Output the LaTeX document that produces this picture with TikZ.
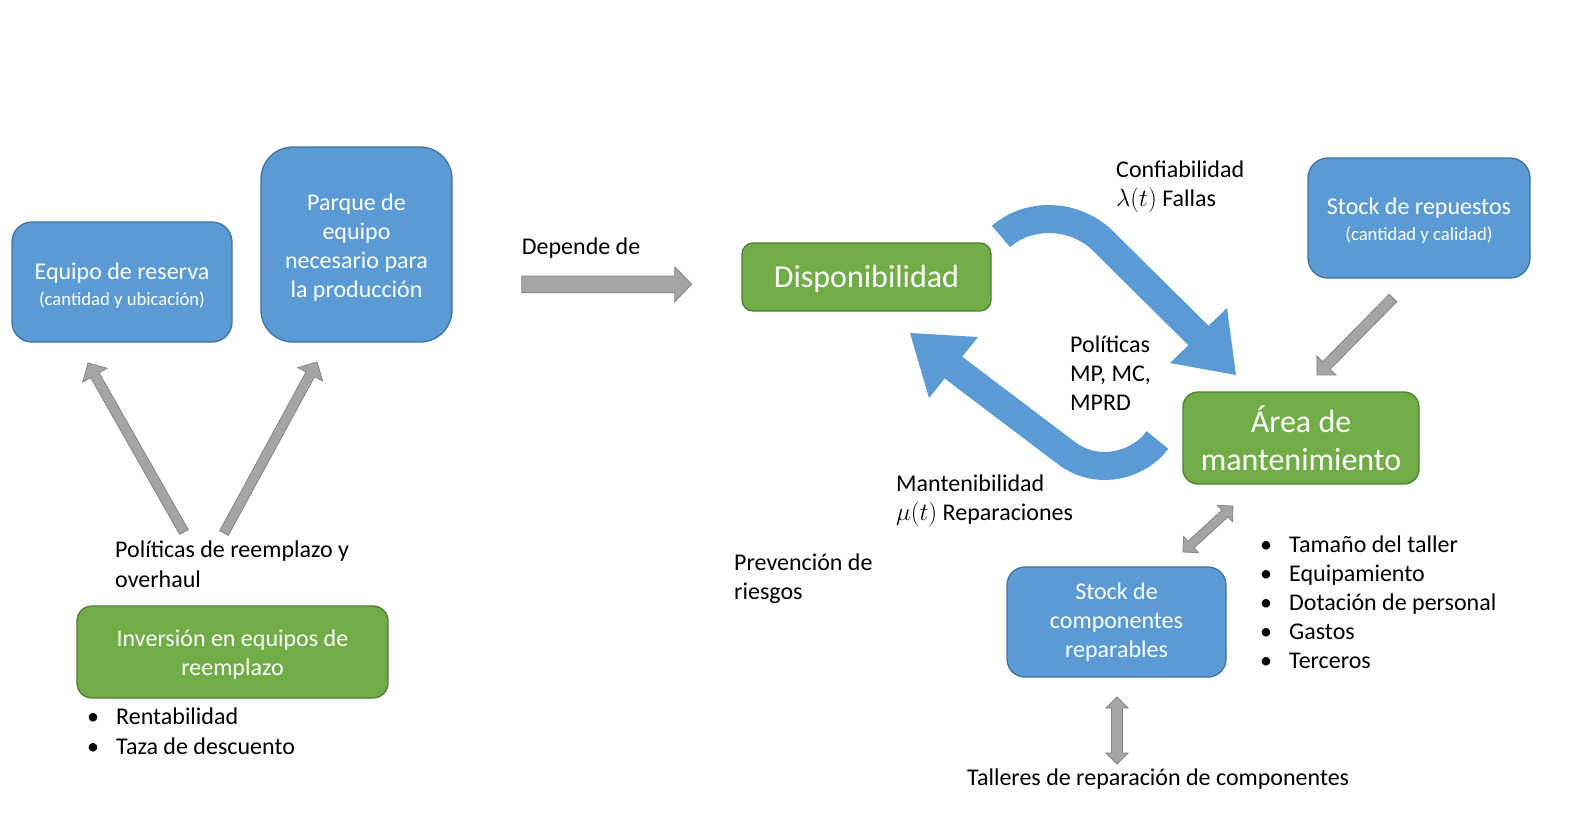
\documentclass[tikz,border=0pt]{standalone}
\usepackage{fontspec}
\setmainfont{Carlito}
\usetikzlibrary{calc}
\definecolor{bfill}{HTML}{5B9BD5}
\definecolor{bline}{HTML}{41719C}
\definecolor{gfill}{HTML}{70AD47}
\definecolor{gline}{HTML}{507E32}
\definecolor{afill}{HTML}{A5A5A5}
\definecolor{aline}{HTML}{848484}
\newcommand\fs[2]{\fontsize{#1}{#2}\selectfont}
\newcommand\tstrut[1]{\rule{0pt}{#1}}
\newcommand\singlearrow[5]{%
  \coordinate (tmpH) at ($(#2)!#5!(#1)$);
  \draw[garrow] ($(#1)!#3!90:(#2)$) -- ($(tmpH)!#3!90:(#2)$) -- ($(tmpH)!#4!90:(#2)$) -- (#2)
     -- ($(tmpH)!#4!-90:(#2)$) -- ($(tmpH)!#3!-90:(#2)$) -- ($(#1)!#3!-90:(#2)$) -- cycle;}
\newcommand\doublearrow[5]{%
  \coordinate (tmpA) at ($(#1)!#5!(#2)$);
  \coordinate (tmpB) at ($(#2)!#5!(#1)$);
  \draw[garrow] ($(tmpA)!#3!90:(#2)$) -- ($(tmpB)!#3!90:(#2)$) -- ($(tmpB)!#4!90:(#2)$) -- (#2)
     -- ($(tmpB)!#4!-90:(#2)$) -- ($(tmpB)!#3!-90:(#2)$) -- ($(tmpA)!#3!-90:(#2)$)
     -- ($(tmpA)!#4!-90:(#2)$) -- (#1) -- ($(tmpA)!#4!90:(#2)$) -- cycle;}
\tikzset{
  box/.style={draw=bline, fill=bfill, line width=1.3pt, text=white, align=center, inner sep=0pt, font=\fs{24}{29}},
  gbox/.style={box, draw=gline, fill=gfill},
  lbl/.style={anchor=base west, inner sep=0pt, align=left, font=\fs{24}{29}},
  garrow/.style={fill=afill, draw=aline, line width=0.8pt, line join=miter},
  barrow/.style={draw=bfill, line width=28pt},
  bhead/.style={fill=bfill},
}
\begin{document}
\begin{tikzpicture}[x=1pt,y=-1pt]
\fill[white] (0,0) rectangle (1580,820);
\useasboundingbox (0,0) rectangle (1580,820);

% boxes
\node[box, minimum width=220pt, minimum height=120pt, rounded corners=20pt] (reserva) at (122,282)
  {\tstrut{23pt}Equipo de reserva\\[-3pt]{\fs{18.67}{22}(cantidad y ubicación)}};
\node[box, minimum width=191pt, minimum height=195pt, rounded corners=32pt] (parque) at (356.5,244.5)
  {\tstrut{23pt}Parque de\\equipo\\necesario para\\la producción};
\node[gbox, minimum width=249pt, minimum height=68pt, rounded corners=11pt, font=\fs{32}{39}] (dispo) at (866.5,277)
  {\tstrut{27pt}Disponibilidad};
\node[box, minimum width=222pt, minimum height=120pt, rounded corners=20pt] (repuestos) at (1419,218)
  {\tstrut{21pt}Stock de repuestos\\[-3pt]{\fs{18.67}{22}(cantidad y calidad)}};
\node[gbox, minimum width=236pt, minimum height=92pt, rounded corners=15pt, font=\fs{32}{38}] (area) at (1301,438)
  {Área de\\mantenimiento};
\node[box, minimum width=219pt, minimum height=110pt, rounded corners=18pt] (stockcomp) at (1116.5,622)
  {Stock de\\componentes\\reparables};
\node[gbox, minimum width=311pt, minimum height=92pt, rounded corners=15pt] (inversion) at (232.5,652)
  {\tstrut{22pt}Inversión en equipos de\\reemplazo};

% labels (base anchor = baseline of the last line)
\node[lbl] (depende) at (521.7,254) {Depende de};
\node[lbl] (confiab) at (1116,206) {Confiabilidad\\$\lambda(t)$ Fallas};
\node[lbl] (politicas) at (1070,410) {Políticas\\MP, MC,\\MPRD};
\node[lbl] (mantenib) at (896,520) {Mantenibilidad\\$\mu(t)$ Reparaciones};
\node[lbl] (prevencion) at (734,599) {Prevención de\\riesgos};
\node[lbl, font=\fs{24}{30}] (polreemp) at (115,587) {Políticas de reemplazo y\\overhaul};
\node[lbl, font=\fs{24}{30}] (bulletsl) at (87,754) {\makebox[29pt][l]{•}Rentabilidad\\\makebox[29pt][l]{•}Taza de descuento};
\node[lbl] (bulletsr) at (1260,668) {\makebox[29pt][l]{•}Tamaño del taller\\\makebox[29pt][l]{•}Equipamiento\\\makebox[29pt][l]{•}Dotación de personal\\\makebox[29pt][l]{•}Gastos\\\makebox[29pt][l]{•}Terceros};
\node[lbl] (talleres) at (967,785) {Talleres de reparación de componentes};

% gray block arrows
\coordinate (dA) at (521.7,284.3);
\coordinate (dB) at (691.7,284.3);
\singlearrow{dA}{dB}{8.3pt}{17.5pt}{17pt}
\coordinate (l1A) at (184,532);
\coordinate (l1B) at (88,363);
\singlearrow{l1A}{l1B}{4.9pt}{14pt}{14pt}
\coordinate (l2A) at (224,533);
\coordinate (l2B) at (317,362);
\singlearrow{l2A}{l2B}{4.9pt}{14pt}{14pt}
\coordinate (rA) at (1393,298);
\coordinate (rB) at (1317,375);
\singlearrow{rA}{rB}{5.3pt}{13.3pt}{13.3pt}
\coordinate (ddA) at (1233,506);
\coordinate (ddB) at (1183,552);
\doublearrow{ddA}{ddB}{4.5pt}{11pt}{11pt}
\coordinate (vA) at (1117,697);
\coordinate (vB) at (1117,764);
\doublearrow{vA}{vB}{5.5pt}{11pt}{11pt}

% blue curved arrows
\coordinate (f0) at (1001,236.5);
\coordinate (f1) at (1100,238);
\coordinate (f2) at (1200,337);
\draw[barrow] (f0) .. controls (1025,215) and (1068,211) .. (f1) -- (f2);
\fill[bhead] (1227,308) -- (1236,375) -- (1170,363) -- cycle;
\coordinate (r0) at (1157.5,440);
\coordinate (r1) at (1065,452);
\coordinate (r2) at (952,366.5);
\draw[barrow] (r0) .. controls (1140,464) and (1098,478) .. (r1) -- (r2);
\fill[bhead] (978,337) -- (910,333) -- (929,398) -- cycle;
\end{tikzpicture}
\end{document}
